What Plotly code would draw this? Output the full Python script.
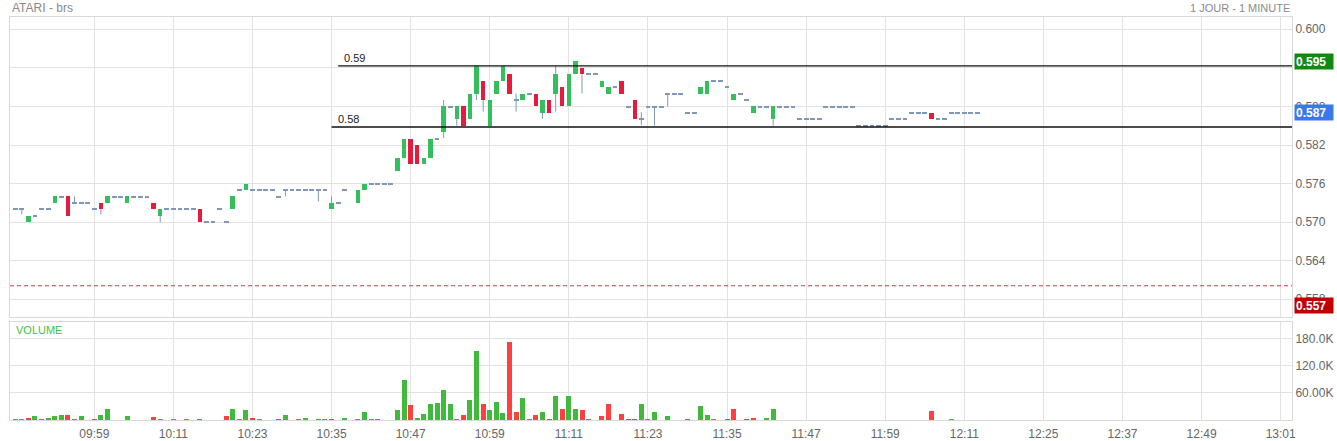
import plotly.graph_objects as go

# ---------------- data ----------------
times = [
    "09:47", "09:48", "09:49", "09:50", "09:51", "09:52", "09:53", "09:54", "09:55", "09:56",
    "09:57", "09:58", "09:59", "10:00", "10:01", "10:02", "10:03", "10:04", "10:05", "10:06",
    "10:07", "10:08", "10:09", "10:10", "10:11", "10:12", "10:13", "10:14", "10:15", "10:16",
    "10:17", "10:18", "10:19", "10:20", "10:21", "10:22", "10:23", "10:24", "10:25", "10:26",
    "10:27", "10:28", "10:29", "10:30", "10:31", "10:32", "10:33", "10:34", "10:35", "10:36",
    "10:37", "10:39", "10:40", "10:41", "10:42", "10:43", "10:44", "10:45", "10:46", "10:47",
    "10:48", "10:49", "10:50", "10:51", "10:52", "10:53", "10:54", "10:55", "10:56", "10:57",
    "10:58", "10:59", "11:00", "11:01", "11:02", "11:03", "11:04", "11:05", "11:06", "11:07",
    "11:08", "11:09", "11:10", "11:11", "11:12", "11:13", "11:14", "11:15", "11:16", "11:17",
    "11:18", "11:19", "11:20", "11:21", "11:22", "11:23", "11:24", "11:25", "11:26", "11:27",
    "11:28", "11:29", "11:30", "11:31", "11:32", "11:33", "11:34", "11:35", "11:36", "11:37",
    "11:38", "11:39", "11:40", "11:41", "11:42", "11:43", "11:44", "11:45", "11:46", "11:47",
    "11:48", "11:49", "11:50", "11:51", "11:52", "11:53", "11:54", "11:55", "11:56", "11:57",
    "11:58", "11:59", "12:00", "12:01", "12:02", "12:03", "12:04", "12:05", "12:06", "12:07",
    "12:08", "12:09", "12:10", "12:11", "12:12", "12:13",
]
opens = [
    0.572, 0.572, 0.570, 0.571, 0.572, 0.572, 0.573, 0.574, 0.574, 0.573,
    0.573, 0.573, 0.572, 0.573, 0.573, 0.574, 0.574, 0.573, 0.574, 0.574,
    0.574, 0.573, 0.571, 0.572, 0.572, 0.572, 0.572, 0.572, 0.572, 0.570,
    0.570, 0.572, 0.570, 0.572, 0.575, 0.575, 0.575, 0.575, 0.575, 0.575,
    0.574, 0.575, 0.575, 0.575, 0.575, 0.575, 0.575, 0.575, 0.572, 0.573,
    0.575, 0.573, 0.575, 0.576, 0.576, 0.576, 0.576, 0.578, 0.580, 0.583,
    0.582, 0.579, 0.580, 0.583, 0.584, 0.588, 0.586, 0.588, 0.586, 0.590,
    0.592, 0.585, 0.590, 0.592, 0.593, 0.589, 0.589, 0.590, 0.590, 0.587,
    0.589, 0.590, 0.591, 0.588, 0.593, 0.594, 0.593, 0.593, 0.591, 0.590,
    0.591, 0.592, 0.588, 0.589, 0.586, 0.588, 0.588, 0.588, 0.590, 0.590,
    0.590, 0.587, 0.587, 0.590, 0.590, 0.592, 0.592, 0.591, 0.589, 0.590,
    0.589, 0.587, 0.588, 0.588, 0.586, 0.588, 0.588, 0.588, 0.586, 0.586,
    0.586, 0.586, 0.588, 0.588, 0.588, 0.588, 0.588, 0.585, 0.585, 0.585,
    0.585, 0.585, 0.586, 0.586, 0.586, 0.587, 0.587, 0.587, 0.587, 0.586,
    0.586, 0.587, 0.587, 0.587, 0.587, 0.587,
]
highs = [
    0.572, 0.572, 0.571, 0.571, 0.572, 0.572, 0.574, 0.574, 0.574, 0.574,
    0.573, 0.573, 0.572, 0.573, 0.574, 0.574, 0.574, 0.574, 0.574, 0.574,
    0.574, 0.573, 0.572, 0.572, 0.572, 0.572, 0.572, 0.572, 0.572, 0.570,
    0.570, 0.572, 0.570, 0.574, 0.575, 0.576, 0.575, 0.575, 0.575, 0.575,
    0.574, 0.575, 0.575, 0.575, 0.575, 0.575, 0.575, 0.575, 0.574, 0.573,
    0.575, 0.575, 0.576, 0.576, 0.576, 0.576, 0.576, 0.580, 0.583, 0.583,
    0.582, 0.580, 0.583, 0.583, 0.589, 0.588, 0.588, 0.588, 0.590, 0.5943,
    0.592, 0.589, 0.592, 0.5943, 0.593, 0.590, 0.590, 0.590, 0.590, 0.589,
    0.589, 0.5943, 0.591, 0.593, 0.595, 0.594, 0.593, 0.593, 0.592, 0.591,
    0.591, 0.592, 0.588, 0.589, 0.5871, 0.588, 0.588, 0.588, 0.590, 0.590,
    0.590, 0.587, 0.587, 0.591, 0.592, 0.592, 0.592, 0.591, 0.590, 0.590,
    0.589, 0.588, 0.588, 0.588, 0.588, 0.588, 0.588, 0.588, 0.586, 0.586,
    0.586, 0.586, 0.588, 0.588, 0.588, 0.588, 0.588, 0.585, 0.585, 0.585,
    0.585, 0.585, 0.586, 0.586, 0.586, 0.587, 0.587, 0.587, 0.587, 0.586,
    0.586, 0.587, 0.587, 0.587, 0.587, 0.587,
]
lows = [
    0.572, 0.5712, 0.570, 0.571, 0.572, 0.572, 0.573, 0.574, 0.571, 0.573,
    0.573, 0.573, 0.572, 0.5712, 0.573, 0.574, 0.574, 0.573, 0.574, 0.574,
    0.574, 0.572, 0.570, 0.572, 0.572, 0.572, 0.572, 0.572, 0.570, 0.570,
    0.570, 0.572, 0.570, 0.572, 0.575, 0.575, 0.575, 0.575, 0.575, 0.575,
    0.574, 0.574, 0.575, 0.575, 0.575, 0.575, 0.5732, 0.575, 0.572, 0.573,
    0.575, 0.573, 0.575, 0.576, 0.576, 0.576, 0.576, 0.578, 0.580, 0.579,
    0.579, 0.579, 0.580, 0.583, 0.5831, 0.588, 0.585, 0.585, 0.586, 0.589,
    0.5872, 0.585, 0.590, 0.592, 0.590, 0.5872, 0.589, 0.590, 0.588, 0.5861,
    0.587, 0.5872, 0.588, 0.588, 0.593, 0.590, 0.593, 0.593, 0.591, 0.590,
    0.591, 0.590, 0.588, 0.586, 0.5851, 0.588, 0.585, 0.588, 0.588, 0.590,
    0.590, 0.587, 0.587, 0.590, 0.590, 0.592, 0.592, 0.591, 0.589, 0.590,
    0.589, 0.587, 0.588, 0.588, 0.585, 0.588, 0.588, 0.588, 0.586, 0.586,
    0.586, 0.586, 0.588, 0.588, 0.588, 0.588, 0.588, 0.585, 0.585, 0.585,
    0.585, 0.585, 0.586, 0.586, 0.586, 0.587, 0.587, 0.587, 0.586, 0.586,
    0.586, 0.587, 0.587, 0.587, 0.587, 0.587,
]
closes = [
    0.572, 0.572, 0.571, 0.571, 0.572, 0.572, 0.574, 0.574, 0.571, 0.573,
    0.573, 0.573, 0.572, 0.572, 0.574, 0.574, 0.574, 0.574, 0.574, 0.574,
    0.574, 0.572, 0.572, 0.572, 0.572, 0.572, 0.572, 0.572, 0.570, 0.570,
    0.570, 0.572, 0.570, 0.574, 0.575, 0.576, 0.575, 0.575, 0.575, 0.575,
    0.574, 0.575, 0.575, 0.575, 0.575, 0.575, 0.575, 0.575, 0.573, 0.573,
    0.575, 0.575, 0.576, 0.576, 0.576, 0.576, 0.576, 0.580, 0.583, 0.579,
    0.579, 0.580, 0.583, 0.583, 0.588, 0.588, 0.588, 0.585, 0.590, 0.5943,
    0.589, 0.589, 0.592, 0.5943, 0.590, 0.589, 0.590, 0.590, 0.588, 0.589,
    0.587, 0.593, 0.588, 0.593, 0.595, 0.593, 0.593, 0.593, 0.592, 0.591,
    0.591, 0.590, 0.588, 0.586, 0.586, 0.588, 0.588, 0.588, 0.590, 0.590,
    0.590, 0.587, 0.587, 0.591, 0.592, 0.592, 0.592, 0.591, 0.590, 0.590,
    0.589, 0.588, 0.588, 0.588, 0.588, 0.588, 0.588, 0.588, 0.586, 0.586,
    0.586, 0.586, 0.588, 0.588, 0.588, 0.588, 0.588, 0.585, 0.585, 0.585,
    0.585, 0.585, 0.586, 0.586, 0.586, 0.587, 0.587, 0.587, 0.586, 0.586,
    0.586, 0.587, 0.587, 0.587, 0.587, 0.587,
]
volumes = [
    2200, 2900, 4400, 8800, 700, 5900, 8800, 11000, 11000, 3700,
    8800, 0, 1500, 11000, 24000, 0, 0, 8800, 0, 0,
    0, 7300, 2900, 0, 700, 0, 700, 0, 2200, 0,
    0, 0, 10000, 24000, 2900, 22000, 5900, 700, 0, 0,
    700, 11700, 0, 700, 4400, 0, 2900, 1500, 1500, 0,
    5900, 800, 19000, 1500, 1500, 0, 0, 22000, 89000, 33700,
    5100, 13900, 35000, 38800, 67400, 36600, 3700, 12500, 45400, 151700,
    35200, 22000, 41000, 16100, 173600, 19000, 49800, 1500, 12500, 17600,
    2200, 53500, 24200, 52800, 24200, 22000, 3700, 0, 9500, 35200,
    0, 13200, 700, 3700, 35200, 2200, 17600, 0, 8800, 0,
    500, 2200, 0, 30800, 11000, 1500, 0, 700, 24200, 0,
    2200, 4400, 0, 5900, 24200, 0, 0, 0, 0, 0,
    0, 0, 0, 0, 0, 0, 0, 0, 0, 0,
    0, 0, 0, 0, 0, 0, 0, 0, 19800, 0,
    0, 700, 0, 0, 0, 0,
]

# axis labels (one every 12 bar slots, as on the reference)
tick_labels = ["09:59", "10:11", "10:23", "10:35", "10:47", "10:59", "11:11", "11:23",
               "11:35", "11:47", "11:59", "12:11", "12:25", "12:37", "12:49", "13:01"]
price_ticks = [0.558, 0.564, 0.570, 0.576, 0.582, 0.588, 0.594, 0.600]
price_tick_text = ["0.558", "0.564", "0.570", "0.576", "0.582", "0.588", "", "0.600"]
volume_ticks = [60000, 120000, 180000]
volume_tick_text = ["60.00K", "120.0K", "180.0K"]

# user-drawn levels
level_prices = [0.5943, 0.5848]
level_start = ["10:36", "10:35"]
level_labels = ["0.59", "0.58"]
ref_line_price = 0.5601

# right-hand price badges
badge_prices = [0.595, 0.587, 0.557]
badge_colors = ["#128a12", "#3a78f2", "#c00000"]

# ---------------- styling ----------------
UP = "#33bf5c"
DOWN = "#e8193f"
FLAT = "#7f98ba"
WICK = "#7f98ba"
VUP = "#40ba3c"
VDOWN = "#ff4040"
GRID = "#e2e2e2"
TXT = "#666666"
FONT = "Liberation Sans, Arial, sans-serif"


def slot(t):
    h, m = t.split(":")
    return int(h) * 60 + int(m) - (9 * 60 + 59)


xs = [slot(t) for t in times]

# wicks (only the parts outside the body)
wx, wy = [], []
for x, o, h, l, c in zip(xs, opens, highs, lows, closes):
    top, bot = max(o, c), min(o, c)
    if h > top + 1e-9:
        wx += [x, x, None]
        wy += [top, h, None]
    if l < bot - 1e-9:
        wx += [x, x, None]
        wy += [bot, l, None]

flat_h = 0.00022
b_base, b_h, b_col, b_w = [], [], [], []
for o, c in zip(opens, closes):
    if abs(c - o) < 1e-9:
        b_base.append(o - flat_h / 2)
        b_h.append(flat_h)
        b_col.append(FLAT)
        b_w.append(0.74)
    else:
        b_base.append(min(o, c))
        b_h.append(abs(c - o))
        b_col.append(UP if c > o else DOWN)
        b_w.append(0.68)

v_col = []
for i, c in enumerate(closes):
    if i == 0 or c >= closes[i - 1] - 1e-9:
        v_col.append(VUP)
    else:
        v_col.append(VDOWN)

x_range = [-12.79, 181.72]
tick_slots = [12 * i for i in range(len(tick_labels))]

fig = go.Figure()
fig.add_trace(go.Scatter(x=wx, y=wy, mode="lines", line=dict(color=WICK, width=1),
                         hoverinfo="skip", xaxis="x", yaxis="y"))
fig.add_trace(go.Bar(x=xs, y=b_h, base=b_base, width=b_w, marker=dict(color=b_col, line=dict(width=0)),
                     xaxis="x", yaxis="y"))
fig.add_trace(go.Bar(x=xs, y=volumes, width=0.76, marker=dict(color=v_col, line=dict(width=0)),
                     xaxis="x2", yaxis="y2"))

axis_common = dict(showgrid=True, gridcolor=GRID, gridwidth=1, zeroline=False, showline=True,
                   mirror=True, linecolor="#d8d8d8", linewidth=1, ticks="", automargin=False)

shapes = []
for p, s in zip(level_prices, level_start):
    shapes.append(dict(type="line", xref="x", yref="y", x0=slot(s), x1=x_range[1], y0=p, y1=p,
                       line=dict(color="#111111", width=1.3)))
shapes.append(dict(type="line", xref="paper", yref="y", x0=0, x1=1, y0=ref_line_price, y1=ref_line_price,
                   line=dict(color="#ee2b45", width=1, dash="4px,3px")))

annotations = []
for p, s, lab in zip(level_prices, level_start, level_labels):
    annotations.append(dict(x=slot(s), y=p, xref="x", yref="y", text=lab, showarrow=False,
                            xanchor="left", yanchor="bottom", xshift=4, yshift=0,
                            font=dict(family=FONT, size=11, color="#222222")))
for p, col in zip(badge_prices, badge_colors):
    annotations.append(dict(x=1, y=p, xref="paper", yref="y", text="<b>%.3f</b>" % p, showarrow=False,
                            xanchor="left", yanchor="middle", xshift=2, width=36, height=13,
                            align="left", bgcolor=col, borderpad=1,
                            font=dict(family=FONT, size=12, color="white")))
annotations.append(dict(x=0, y=1, xref="paper", yref="paper", text="ATARI - brs", showarrow=False,
                        xanchor="left", yanchor="middle", yshift=9,
                        font=dict(family=FONT, size=12, color="#8a8a8a")))
annotations.append(dict(x=1, y=1, xref="paper", yref="paper", text="1 JOUR - 1 MINUTE", showarrow=False,
                        xanchor="right", yanchor="middle", yshift=9,
                        font=dict(family=FONT, size=11, color="#8a8a8a")))
annotations.append(dict(x=0, y=0.2439, xref="paper", yref="paper", text="VOLUME", showarrow=False,
                        xanchor="left", yanchor="middle", xshift=4, yshift=-8,
                        font=dict(family=FONT, size=11, color="#3fbf3f")))

fig.update_layout(
    width=1337, height=441,
    margin=dict(l=10, r=45, t=17, b=21),
    paper_bgcolor="white", plot_bgcolor="white",
    showlegend=False, bargap=0, barmode="overlay",
    font=dict(family=FONT, size=12, color=TXT),
    xaxis=dict(domain=[0, 1], anchor="y", range=x_range, tickvals=tick_slots,
               showticklabels=False, **axis_common),
    yaxis=dict(domain=[0.2563, 1], anchor="x", side="right", range=[0.55529, 0.60191],
               tickvals=price_ticks, ticktext=price_tick_text,
               tickfont=dict(family=FONT, size=12, color=TXT), **axis_common),
    xaxis2=dict(domain=[0, 1], anchor="y2", range=x_range, tickvals=tick_slots, ticktext=tick_labels,
                ticklabelstandoff=3,
                tickfont=dict(family=FONT, size=12, color=TXT), **axis_common),
    yaxis2=dict(domain=[0, 0.2439], anchor="x2", side="right", range=[0, 216600],
                tickvals=volume_ticks, ticktext=volume_tick_text,
                tickfont=dict(family=FONT, size=12, color=TXT), **axis_common),
    shapes=shapes, annotations=annotations,
)

fig.write_html("out.html", config={"displayModeBar": False},
               post_script="document.body.style.margin='0';document.body.style.overflow='hidden';")
